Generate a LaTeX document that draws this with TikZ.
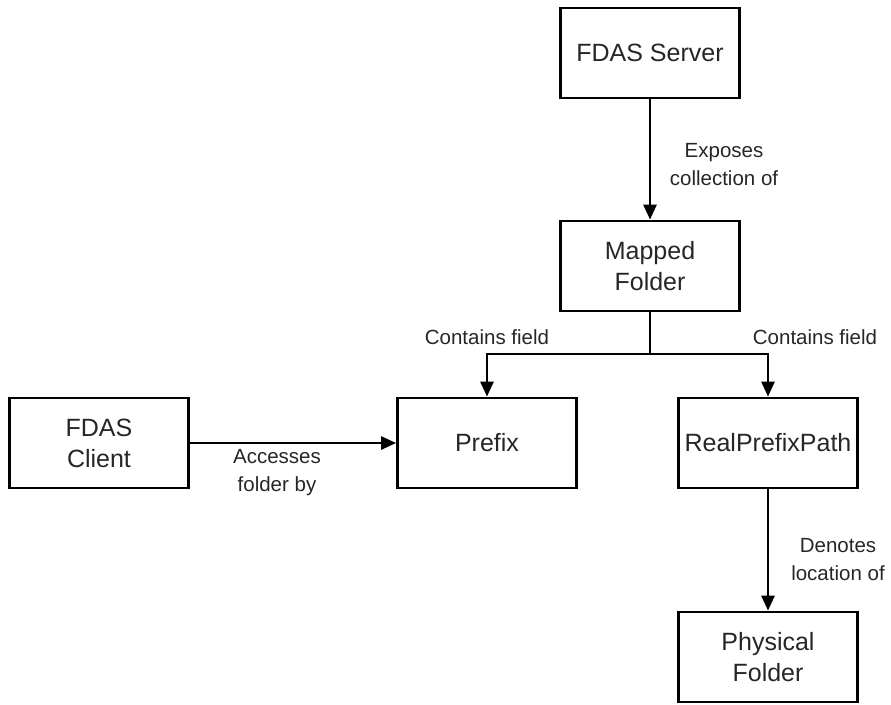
\documentclass[tikz,border=0pt]{standalone}
\usepackage{fontspec}
\setmainfont{Liberation Sans}
\usetikzlibrary{arrows.meta}

\tikzset{
    box/.style={draw, line width=2.8pt, minimum width=179pt, minimum height=90pt,
        align=center, text=black!85, font=\fontsize{25}{31}\selectfont},
    conn/.style={line width=2.8pt, -{Triangle[width=13pt, length=15pt]}},
    lbl/.style={align=center, text=black!85, font=\fontsize{20.5}{28}\selectfont},
}

\begin{document}
\begin{tikzpicture}[x=1pt, y=-1pt]
                    \useasboundingbox (0,0) rectangle (891,704);

                    \node[box] (server) at (650,53) {FDAS Server};
                    \node[box] (mapped) at (650,266) {Mapped\\Folder};
                    \node[box] (prefix) at (487,443) {Prefix};
                    \node[box] (realpath) at (768,443) {RealPrefixPath};
                    \node[box] (client) at (99,443) {FDAS\\Client};
                    \node[box] (physical) at (768,657) {Physical\\Folder};

                    \coordinate (split) at (650,354);

                    \draw[conn] (server) -- (mapped);
                    \draw[line width=2.8pt] (mapped) -- (split);
                    \draw[conn] (split) -| (prefix.north);
                    \draw[conn] (split) -| (realpath.north);
                    \draw[conn] (client) -- (prefix);
                    \draw[conn] (realpath) -- (physical);

                    \node[lbl] (exposes) at (724,165) {Exposes\\collection of};
                    \node[lbl] (fieldleft) at (487,337) {Contains field};
                    \node[lbl] (fieldright) at (815,337) {Contains field};
                    \node[lbl] (accesses) at (277,473) {Accesses\\folder by};
                    \node[lbl] (denotes) at (838,560) {Denotes\\location of};
                \end{tikzpicture}
\end{document}
